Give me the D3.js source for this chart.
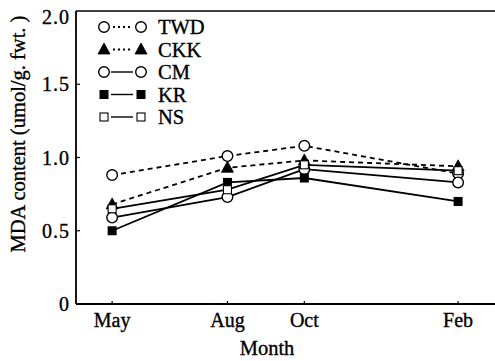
<!DOCTYPE html>
<html>
<head>
<meta charset="utf-8">
<script src="https://cdn.jsdelivr.net/npm/d3@7"></script>
<style>
  body { margin: 0; background: #fff; }
  text { font-family: "Liberation Serif", "DejaVu Serif", serif; fill: #000; stroke: #000; stroke-width: 0.35; }
</style>
</head>
<body>
<div id="chart"></div>
<script>
const width = 495;
const height = 361;

// months counted from May
const months = ["May", "Aug", "Oct", "Feb"];
const monthIndex = [0, 3, 5, 9];
const yTicks = [0, 0.5, 1.0, 1.5, 2.0];

const twd = [0.88, 1.01, 1.08, 0.89];
const ckk = [0.68, 0.93, 0.98, 0.94];
const cm = [0.59, 0.73, 0.92, 0.83];
const kr = [0.50, 0.83, 0.86, 0.70];
const ns = [0.65, 0.78, 0.95, 0.91];

const series = [
  { name: "TWD", values: twd, dash: "5,4", marker: "circle", fill: "#fff", legendDash: "2,3" },
  { name: "CKK", values: ckk, dash: "5,4", marker: "triangle", fill: "#000", legendDash: "2,3" },
  { name: "CM", values: cm, dash: null, marker: "circle", fill: "#fff", legendDash: null },
  { name: "KR", values: kr, dash: null, marker: "square", fill: "#000", legendDash: null },
  { name: "NS", values: ns, dash: null, marker: "smallsquare", fill: "#fff", legendDash: null },
];

const x = d3.scaleLinear().domain([-0.94, 9.96]).range([76, 495]);
const y = d3.scaleLinear().domain([0, 2]).range([304, 11]);

const svg = d3.select("#chart").append("svg")
  .attr("width", width)
  .attr("height", height);

// frame: left, bottom, top
svg.append("line").attr("x1", x.range()[0]).attr("x2", x.range()[1])
  .attr("y1", y(0)).attr("y2", y(0)).attr("stroke", "#000").attr("stroke-width", 1.8);
svg.append("line").attr("x1", x.range()[0]).attr("x2", x.range()[1])
  .attr("y1", y(2)).attr("y2", y(2)).attr("stroke", "#000").attr("stroke-width", 1.5);
svg.append("line").attr("x1", x.range()[0]).attr("x2", x.range()[0])
  .attr("y1", y(0)).attr("y2", y(2)).attr("stroke", "#000").attr("stroke-width", 1.8);

// y ticks
yTicks.forEach(t => {
  if (t > 0 && t < 2) {
    svg.append("line").attr("x1", x.range()[0]).attr("x2", x.range()[0] + 4)
      .attr("y1", y(t)).attr("y2", y(t)).attr("stroke", "#000").attr("stroke-width", 1.2);
  }
  svg.append("text")
    .attr("x", 70).attr("y", (t === 2 ? y(t) + 6 : y(t)) + 7)
    .attr("text-anchor", "end")
    .attr("font-size", 20)
    .attr("letter-spacing", 1)
    .text(t === 0 ? "0" : d3.format(".1f")(t));
});

// x ticks
monthIndex.forEach((m, i) => {
  svg.append("line").attr("x1", x(m)).attr("x2", x(m))
    .attr("y1", y(0)).attr("y2", y(0) - 3).attr("stroke", "#000").attr("stroke-width", 1.2);
  svg.append("text")
    .attr("x", x(m)).attr("y", 327)
    .attr("text-anchor", "middle")
    .attr("font-size", 20)
    .text(months[i]);
});

svg.append("text")
  .attr("x", 267).attr("y", 355)
  .attr("text-anchor", "middle")
  .attr("font-size", 20.5)
  .text("Month");

svg.append("text")
  .attr("transform", "translate(25,134) rotate(-90)")
  .attr("text-anchor", "middle")
  .attr("font-size", 20.5)
  .text("MDA content (umol/g. fwt. )");

function drawMarker(g, type, fill, cx, cy) {
  if (type === "circle") {
    g.append("circle").attr("cx", cx).attr("cy", cy).attr("r", 5.3)
      .attr("fill", fill).attr("stroke", "#000").attr("stroke-width", 1.4);
  } else if (type === "triangle") {
    g.append("path")
      .attr("d", `M${cx},${cy - 6.5}L${cx + 6},${cy + 4.5}L${cx - 6},${cy + 4.5}Z`)
      .attr("fill", fill).attr("stroke", "#000").attr("stroke-width", 0.8);
  } else if (type === "square") {
    g.append("rect").attr("x", cx - 4.5).attr("y", cy - 4.5).attr("width", 9).attr("height", 9)
      .attr("fill", fill);
  } else {
    g.append("rect").attr("x", cx - 4).attr("y", cy - 4).attr("width", 8).attr("height", 8)
      .attr("fill", fill).attr("stroke", "#000").attr("stroke-width", 1.1);
  }
}

const line = d3.line()
  .x((d, i) => x(monthIndex[i]))
  .y(d => y(d));

// lines first, markers on top
series.forEach(s => {
  svg.append("path")
    .attr("d", line(s.values))
    .attr("fill", "none")
    .attr("stroke", "#000")
    .attr("stroke-width", 1.8)
    .attr("stroke-dasharray", s.dash);
});
series.forEach(s => {
  const g = svg.append("g");
  s.values.forEach((v, i) => drawMarker(g, s.marker, s.fill, x(monthIndex[i]), y(v)));
});

// legend
series.forEach((s, i) => {
  const ly = 27 + i * 22.5;
  const g = svg.append("g");
  g.append("line")
    .attr("x1", s.legendDash ? 113 : 111).attr("x2", 133)
    .attr("y1", ly).attr("y2", ly)
    .attr("stroke", "#000").attr("stroke-width", s.legendDash ? 2 : 1.4)
    .attr("stroke-dasharray", s.legendDash);
  drawMarker(g, s.marker, s.fill, 104, ly);
  drawMarker(g, s.marker, s.fill, 141, ly);
  g.append("text").attr("x", 158).attr("y", ly + 7)
    .attr("font-size", 20.5)
    .text(s.name);
});
</script>
</body>
</html>
